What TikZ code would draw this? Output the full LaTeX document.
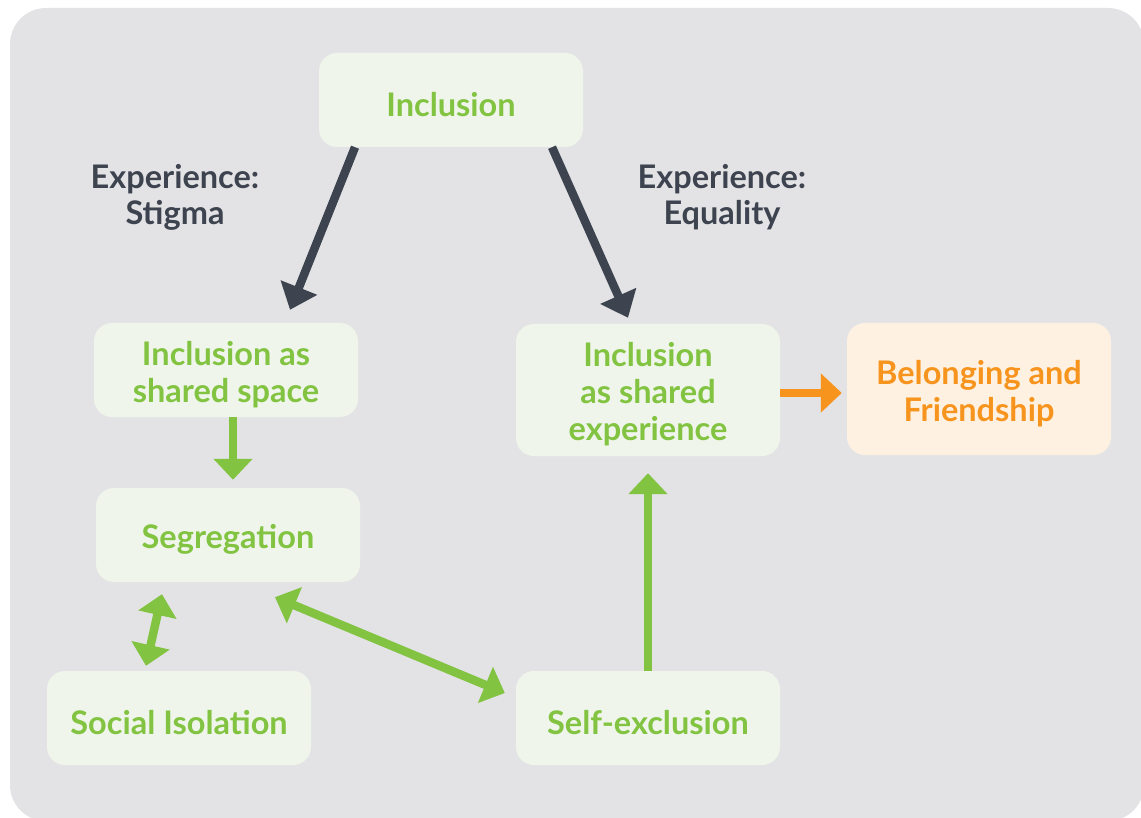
\documentclass[tikz,border=0pt]{standalone}
\usepackage{fontspec}
\setmainfont{Lato}
\usetikzlibrary{positioning,arrows.meta}
\definecolor{panelgray}{HTML}{E3E3E5}
\definecolor{boxgreen}{HTML}{EFF5EA}
\definecolor{textgreen}{HTML}{82C341}
\definecolor{arrowdark}{HTML}{3D4450}
\definecolor{textorange}{HTML}{F7941D}
\definecolor{boxorange}{HTML}{FEF1E2}
\newcommand{\toplift}{\rule{0pt}{33pt}}

\begin{document}
\begin{tikzpicture}[x=1pt,y=-1pt,
    stage/.style={rectangle,rounded corners=18pt,fill=boxgreen,text=textgreen,
        minimum width=264pt,minimum height=94pt,inner sep=0pt,align=center,
        font=\fontsize{32.5}{37}\selectfont\bfseries,
        execute at begin node={\toplift}},
    goal/.style={stage,fill=boxorange,text=textorange},
    experience/.style={text=arrowdark,align=center,inner sep=0pt,
        font=\fontsize{32.5}{36}\selectfont\bfseries},
    darkarrow/.style={draw=arrowdark,line width=8.5pt,-{Triangle[length=24pt,width=38pt]}},
    greenarrow/.style={draw=textgreen,line width=8.5pt,-{Triangle[length=21pt,width=38pt]}},
    greenboth/.style={draw=textgreen,line width=8.5pt,{Triangle[length=21pt,width=38pt]}-{Triangle[length=21pt,width=38pt]}},
    orangearrow/.style={draw=textorange,line width=8.5pt,-{Triangle[length=21pt,width=38pt]}}]
    \clip (0,0) rectangle (1141,818);
    \fill [panelgray,rounded corners=36pt] (10,8) rectangle (1144,821);

    \node [stage] (incl) at (451,100) {Inclusion};
    \node [stage] (space) at (226,370) {\toplift Inclusion as\\shared space};
    \node [stage,minimum height=132pt] (shared) at (648,390) {\toplift Inclusion\\as shared\\experience};
    \node [goal,minimum height=132pt] (belong) at (979,389) {\toplift Belonging and\\Friendship};
    \node [stage] (segr) at (228,535) {Segregation};
    \node [stage] (isol) at (179,718) {Social Isolation};
    \node [stage] (selfex) at (648,718) {Self-exclusion};

    \node [experience] (stigma) at (175,197) {Experience:\\Stigma};
    \node [experience] (equality) at (722,197) {Experience:\\Equality};

    \draw [darkarrow] ([xshift=-96pt]incl.south) -- ([xshift=64pt,yshift=13pt]space.north);
    \draw [darkarrow] ([xshift=101pt]incl.south) -- ([xshift=-20pt,yshift=6pt]shared.north);
    \draw [greenarrow] ([xshift=7pt]space.south) -- ([xshift=5pt,yshift=8pt]segr.north);
    \draw [greenboth] ([xshift=-66pt,yshift=-12pt]segr.south) -- ([xshift=-33pt,yshift=5pt]isol.north);
    \draw [greenboth] ([xshift=47pt,yshift=-15pt]segr.south) -- ([xshift=-11pt,yshift=25pt]selfex.west);
    \draw [greenarrow] (selfex.north) -- ([yshift=-17pt]shared.south);
    \draw [orangearrow] ([yshift=-3pt]shared.east) -- ([xshift=-5pt,yshift=-4pt]belong.west);
\end{tikzpicture}
\end{document}
